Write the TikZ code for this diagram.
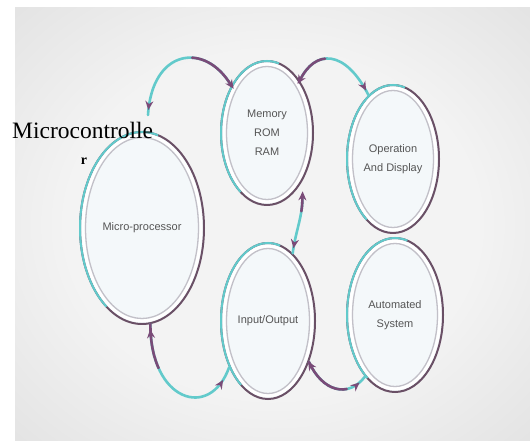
\documentclass[tikz,border=0pt]{standalone}
\usepackage{fontspec}
\setmainfont{Liberation Serif}
\newfontfamily\lsans{Liberation Sans}
\usetikzlibrary{shapes.geometric,arrows.meta,decorations.markings,calc}
\definecolor{tealc}{HTML}{62CACB}
\definecolor{purpc}{HTML}{7A4B78}
\definecolor{ringdark}{HTML}{6A5066}
\definecolor{ringin}{HTML}{C2C0C8}
\definecolor{fillc}{HTML}{F4F8FA}
\definecolor{txtc}{HTML}{555555}
\definecolor{bgin}{HTML}{F3F3F3}
\definecolor{bgmid}{HTML}{DADADA}
\definecolor{bgout}{HTML}{BDBDBD}
\pgfdeclareradialshading{bgshade}{\pgfpoint{0bp}{0bp}}{color(0bp)=(bgin); color(20bp)=(bgin); color(45bp)=(bgmid); color(72bp)=(bgout)}
\newcommand\ringdeco[3]{%
  \draw[white, line width=3pt] (#1.center) ellipse[x radius={#2pt-3.2pt}, y radius={#3pt-3.2pt}];
  \draw[ringin, line width=1.3pt] (#1.center) ellipse[x radius={#2pt-5.5pt}, y radius={#3pt-5.5pt}];
  \draw[tealc, line width=2pt] (#1.center) ++(75:#2pt and #3pt) arc[start angle=75, end angle=235, x radius=#2pt, y radius=#3pt];
}
\tikzset{
  ring/.style={ellipse, draw=ringdark, line width=2pt, fill=fillc, inner sep=0pt,
    font=\lsans\fontsize{11}{19}\selectfont, text=txtc, align=center},
  conn/.style 2 args={draw=tealc, line width=2.6pt, line cap=round,
    postaction={draw=purpc, line width=2.6pt, line cap=round, dash pattern=on #1 off 3000pt},
    postaction={decorate, decoration={markings,
      mark=at position #2 with {\arrow[purpc]{Stealth[length=9pt,width=8pt,reversed]}},
      mark=at position -#2 with {\arrow[purpc]{Stealth[length=9pt,width=8pt]}}}}},
}
\begin{document}
\begin{tikzpicture}[x=1pt,y=1pt]
\useasboundingbox (0,0) rectangle (530,441);
\fill[white] (0,0) rectangle (530,441);
\shade[shading=bgshade] (15,0) rectangle (530,433);

\node[ring, minimum width=124pt, minimum height=192pt] (mp) at (142,213) {Micro-processor};
\node[ring, minimum width=92pt, minimum height=144pt] (mem) at (267,308) {Memory\\ROM\\RAM};
\node[ring, minimum width=92pt, minimum height=148pt] (op) at (393,282) {Operation\\And Display};
\node[ring, minimum width=94pt, minimum height=156pt] (io) at (268,120) {Input/Output};
\node[ring, minimum width=96pt, minimum height=154pt] (au) at (395,126) {Automated\\System};

\ringdeco{mp}{62}{96}
\ringdeco{mem}{46}{72}
\ringdeco{op}{46}{74}
\ringdeco{io}{47}{78}
\ringdeco{au}{48}{77}

\draw[conn={50pt}{5pt}] (mem.127) .. controls (205,400) and (152,392) .. ($(mp.north)+(6,16)$);
\draw[conn={35pt}{5pt}] (mem.58) .. controls (315,392) and (345,392) .. (op.111);
\draw[conn={16pt}{5pt}] ($(mem.-60)+(4,-8)$) .. controls (303,225) and (296,212) .. (io.70);
\draw[conn={45pt}{14pt}] (mp.-85) .. controls (150,40) and (210,20) .. (io.230);
\draw[conn={50pt}{8pt}] (io.-45) .. controls (322,50) and (348,42) .. (au.244);

\node[anchor=base west, font=\fontsize{23.5}{28}\selectfont, inner sep=0pt] (mc) at (12,302) {Microcontrolle};
\node[anchor=base, font=\fontsize{14}{16}\selectfont\bfseries, inner sep=0pt] (mcr) at (84,276) {r};
\end{tikzpicture}
\end{document}
